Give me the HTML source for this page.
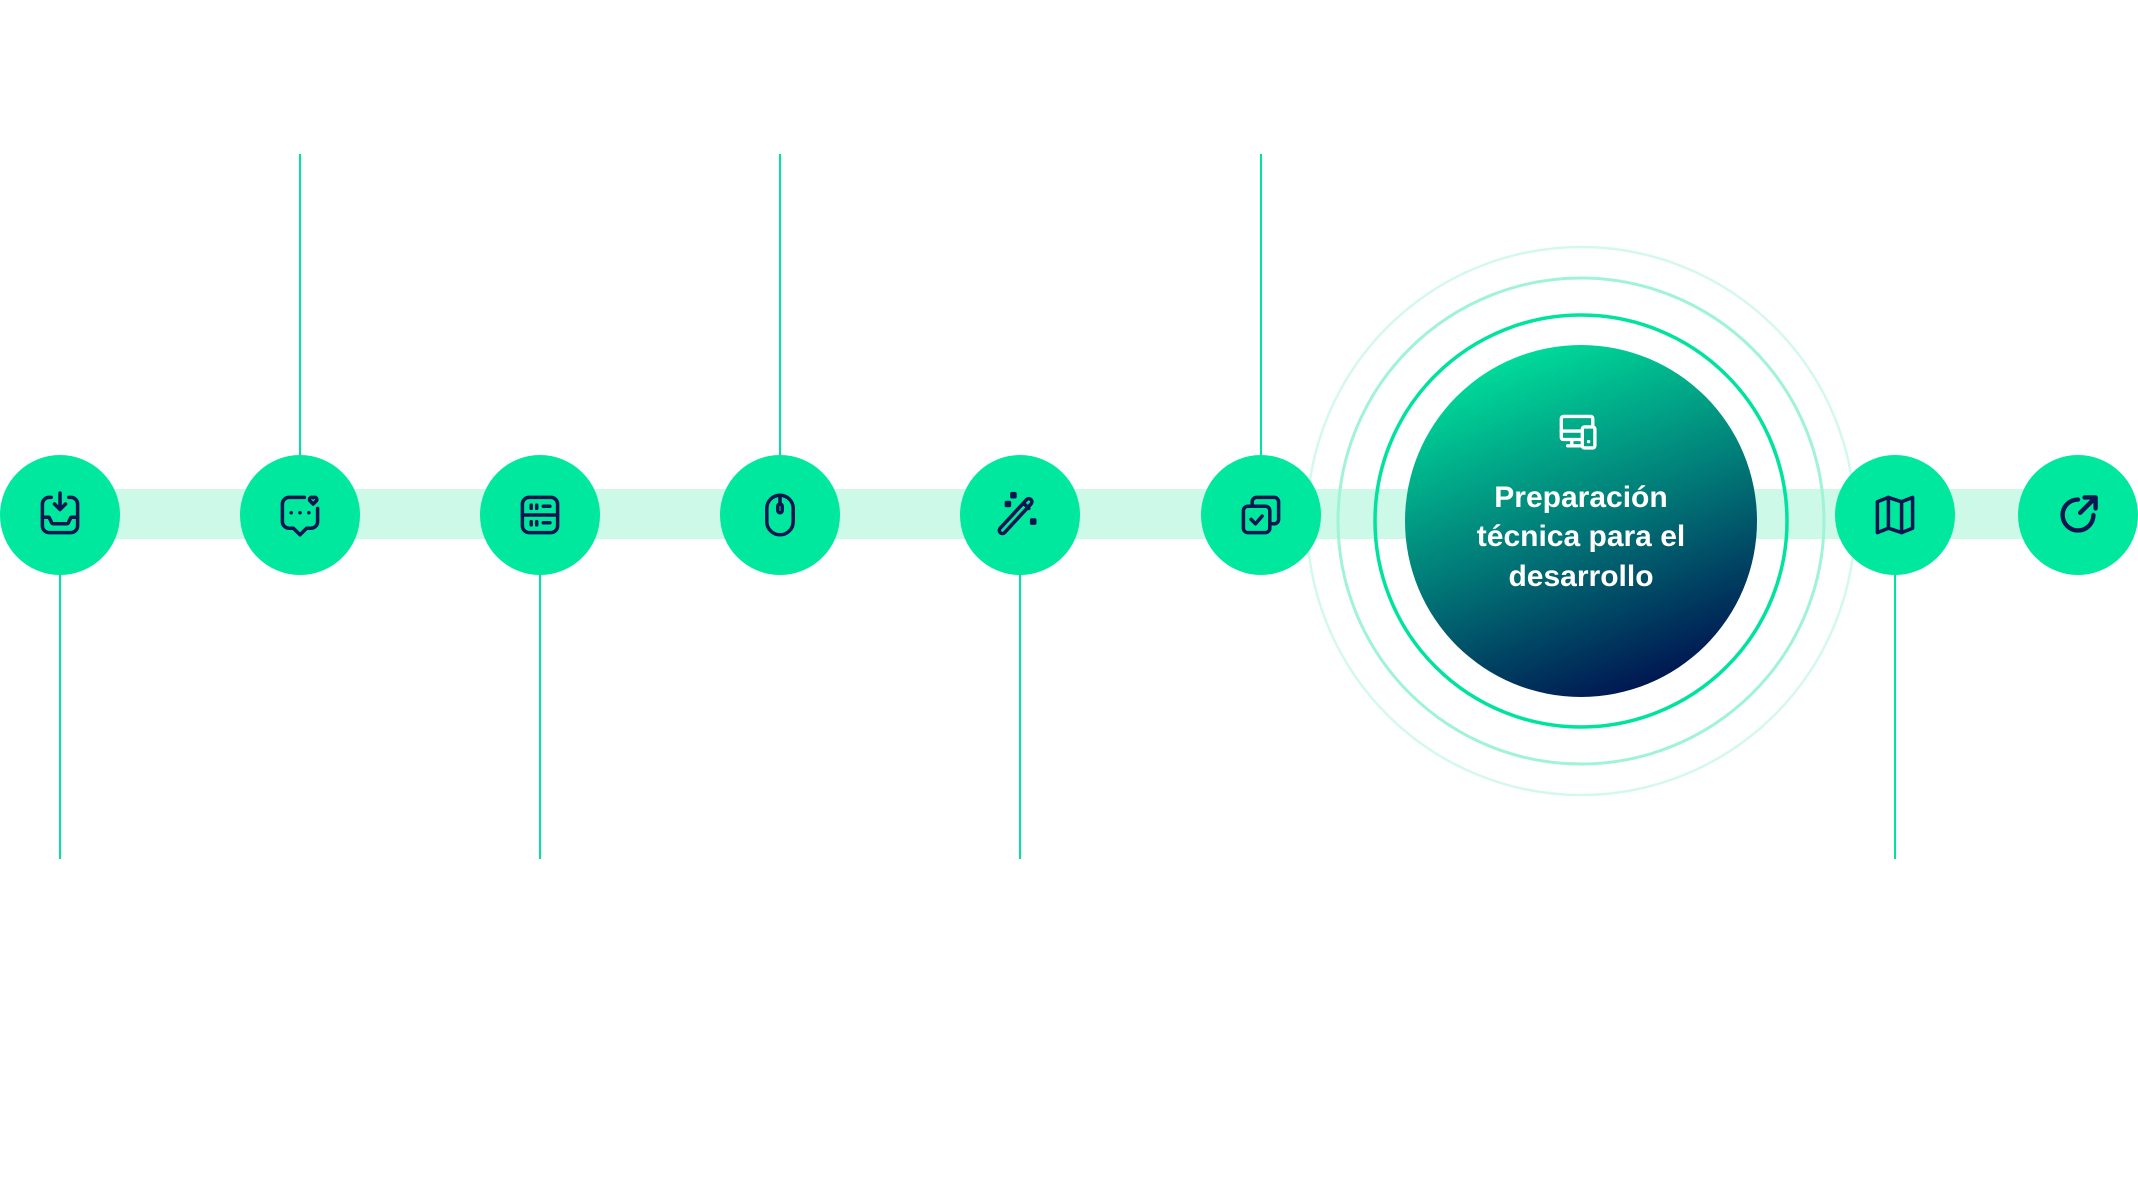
<!DOCTYPE html>
<html><head><meta charset="utf-8"><style>
html,body{margin:0;padding:0;background:#fff;}
svg{display:block}
</style></head><body>
<svg width="2138" height="1190" viewBox="0 0 2138 1190" xmlns="http://www.w3.org/2000/svg">
<defs>
<linearGradient id="g" x1="0.3" y1="0" x2="0.7" y2="1">
<stop offset="0" stop-color="#00e19c"/>
<stop offset="0.5" stop-color="#017b78"/>
<stop offset="1" stop-color="#00104f"/>
</linearGradient>
</defs>
<rect x="60" y="489" width="2018" height="50" fill="#ccf9e8"/>
<g stroke="#00e39e" stroke-width="2">
<line x1="300" y1="154" x2="300" y2="456"/>
<line x1="780" y1="154" x2="780" y2="456"/>
<line x1="1261" y1="154" x2="1261" y2="456"/>
<line x1="60" y1="575" x2="60" y2="859"/>
<line x1="540" y1="575" x2="540" y2="859"/>
<line x1="1020" y1="575" x2="1020" y2="859"/>
<line x1="1895" y1="575" x2="1895" y2="859"/>
</g>
<circle cx="1581" cy="521" r="274" fill="none" stroke="#d4f9ec" stroke-width="2.5"/>
<circle cx="1581" cy="521" r="243" fill="none" stroke="#a0f3d4" stroke-width="3"/>
<circle cx="1581" cy="521" r="206" fill="none" stroke="#00e39e" stroke-width="3.5"/>
<circle cx="1581" cy="521" r="176" fill="url(#g)"/>
<g fill="#00e89e">
<circle cx="60" cy="515" r="60"/><circle cx="300" cy="515" r="60"/><circle cx="540" cy="515" r="60"/>
<circle cx="780" cy="515" r="60"/><circle cx="1020" cy="515" r="60"/><circle cx="1261" cy="515" r="60"/>
<circle cx="1895" cy="515" r="60"/><circle cx="2078" cy="515" r="60"/>
</g>
<g fill="none" stroke="#0b1552" stroke-width="1.6" stroke-linecap="round" stroke-linejoin="round">
<g transform="translate(33.6,488.6) scale(2.2)">
<path d="M8 4H7a3 3 0 0 0-3 3v10a3 3 0 0 0 3 3h10a3 3 0 0 0 3-3V7a3 3 0 0 0-3-3h-1"/>
<path d="M4 13h3l1 2a1 1 0 0 0 1 1h6a1 1 0 0 0 1-1l1-2h3"/>
<path d="M12 2v7M9.5 7l2.5 2.5L14.5 7"/>
</g>
<g transform="translate(273.6,488.6) scale(2.2)">
<path d="M14 4H7a3 3 0 0 0-3 3v8a3 3 0 0 0 3 3h2l3 3 3-3h2a3 3 0 0 0 3-3V9"/>
<path d="M8 11h.01M12 11h.01M16 11h.01"/>
<path d="M18 7l-1.5-1.5a1 1 0 0 1 1.5-1.3 1 1 0 0 1 1.5 1.3z"/>
</g>
<g transform="translate(513.6,488.6) scale(2.2)">
<rect x="4" y="4" width="16" height="16" rx="3"/>
<path d="M4 12h16M8 7.5v1.5M10.5 7.5v1.5M13.5 8h3M8 15v1.5M10.5 15v1.5M13.5 15.5h3"/>
</g>
<g transform="translate(753.6,488.6) scale(2.2)">
<rect x="6" y="3" width="12" height="18" rx="6"/>
<path d="M12 3v4"/><rect x="11" y="7" width="2" height="4" rx="1"/>
</g>
<g transform="translate(993.6,488.6) scale(2.2)">
<path d="M5 20l12-13a1.4 1.4 0 0 0-2-2L3 18a1.4 1.4 0 0 0 2 2zM14 7l2 2"/>
<rect x="8.3" y="2.3" width="1.4" height="1.4"/><rect x="5.8" y="6.3" width="1.4" height="1.4"/><rect x="17.3" y="14.3" width="1.4" height="1.4"/>
</g>
<g transform="translate(1234.6,488.6) scale(2.2)">
<path d="M8 8V6a2 2 0 0 1 2-2h8a2 2 0 0 1 2 2v8a2 2 0 0 1-2 2h-2"/>
<rect x="4" y="8" width="12" height="12" rx="2"/>
<path d="M7.5 14l2 2 3-3.5"/>
</g>
<g transform="translate(1868.6,488.6) scale(2.2)">
<path d="M4 6l5-2 6 2 5-2v14l-5 2-6-2-5 2z"/><path d="M9 4v14M15 6v14"/>
</g>
<g transform="translate(2051.6,488.6) scale(2.2)" stroke-width="2">
<path d="M19 12a7 7 0 1 1-7-7"/><path d="M13 11l7-7M15 4h5v5"/>
</g>
</g>
<g fill="none" stroke="#ffffff" stroke-width="1.6" stroke-linecap="round" stroke-linejoin="round" transform="translate(1555,408) scale(2.1)">
<path d="M13 15H4a1 1 0 0 1-1-1V5a1 1 0 0 1 1-1h13a1 1 0 0 1 1 1v3"/>
<path d="M3 11h10M8 15v3M6 18h7"/>
<rect x="13" y="9" width="6" height="10" rx="1"/><path d="M16 16h.01"/>
</g>
<g font-family="Liberation Sans, sans-serif" font-weight="bold" font-size="30" fill="#ffffff" text-anchor="middle">
<text x="1581" y="507">Preparación</text>
<text x="1581" y="546">técnica para el</text>
<text x="1581" y="586">desarrollo</text>
</g>
</svg>
</body></html>
